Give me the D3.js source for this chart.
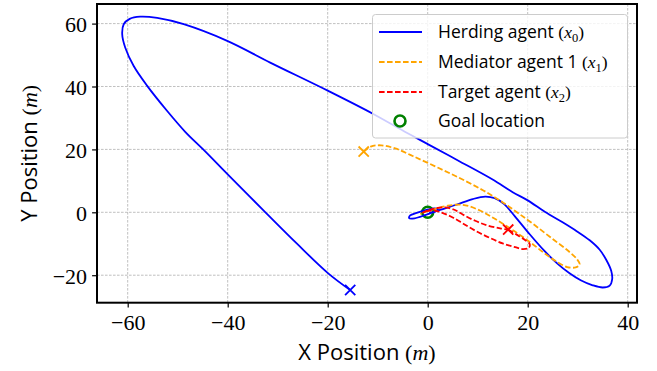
<!DOCTYPE html>
<html>
<head>
<meta charset="utf-8">
<script src="https://cdn.jsdelivr.net/npm/d3@7"></script>
<style>
  html, body { margin: 0; padding: 0; background: #fff; }
  svg { display: block; }
  .serif { font-family: 'Liberation Serif', 'Times New Roman', serif; }
</style>
</head>
<body>
<svg id="chart" width="657" height="371"></svg>
<script>
// Trajectories in metres, [x, y], each starting at its "x" marker.
const herdingPath = [
  [-15.5,-24.7], [-19.9,-19.4], [-26.2,-9.9], [-32.9,0.7], [-39.9,11.9], [-44.9,20.0],
  [-48.5,25.6], [-52.1,32.2], [-56.1,40.2], [-58.8,46.5], [-60.5,52.4], [-61.1,56.6],
  [-60.8,59.8], [-59.6,61.5], [-57.5,62.2], [-54.1,61.8], [-48.8,59.8], [-40.1,54.5],
  [-31.5,47.6], [-19.9,38.6], [-10.8,31.2], [-4.2,25.3], [0.1,21.6], [6.5,16.1],
  [12.9,10.5], [17.0,6.4], [20.0,3.8], [23.5,0.1], [26.9,-3.1], [29.8,-6.0], [32.4,-8.9],
  [34.4,-11.9], [35.7,-15.1], [36.7,-18.6], [36.9,-21.2], [36.4,-23.3], [35.0,-23.9],
  [33.0,-23.2], [30.6,-21.6], [28.3,-19.3], [26.0,-16.4], [23.3,-12.2], [20.2,-6.6],
  [17.4,-1.2], [15.3,2.6], [13.4,4.5], [11.5,5.0], [9.0,4.2], [5.7,2.4], [2.3,0.7],
  [-0.5,-0.9], [-2.6,-1.9], [-3.7,-1.9], [-3.5,-1.0], [-2.2,-0.2], [-0.6,0.6],
  [0.9,1.2], [2.0,1.0], [1.6,0.3], [0.3,-0.2]
];
const mediatorPath = [
  [-12.8,19.3], [-11.4,20.9], [-9.3,21.3], [-6.5,20.3], [-3.0,17.9], [1.5,14.6],
  [6.0,11.2], [10.5,7.5], [13.7,4.5], [16.0,2.1], [18.4,-0.6], [21.5,-4.2],
  [25.0,-8.5], [28.2,-12.4], [29.9,-15.0], [30.4,-16.6], [29.6,-17.5], [27.9,-17.4],
  [25.7,-15.6], [23.1,-12.7], [20.5,-9.5], [17.8,-6.5], [15.1,-3.7], [12.5,-1.2],
  [10.0,0.9], [7.0,2.4], [4.0,2.1], [1.5,1.1], [-0.4,0.2], [-1.5,-0.5]
];
const targetPath = [
  [16.1,-5.5], [17.8,-7.1], [19.4,-8.7], [20.4,-10.1], [20.2,-11.3], [19.0,-11.7],
  [17.5,-11.1], [15.0,-9.9], [12.5,-8.2], [9.8,-6.1], [7.2,-3.7], [5.2,-1.8],
  [3.3,-0.4], [1.5,0.5], [-0.4,0.4], [-1.0,-0.1], [0.2,0.7], [1.7,1.3], [3.3,1.6],
  [5.2,0.9], [7.0,-0.7], [9.5,-2.7], [12.0,-4.2], [14.5,-5.1], [16.1,-5.5]
];

const goalLocation = [0, 0];
const xTicks = [-60, -40, -20, 0, 20, 40];
const yTicks = [-20, 0, 20, 40, 60];
const xDomain = [-66.14, 41.86];
const yDomain = [-28.74, 66.23];

const agentNames = ["Herding agent", "Mediator agent 1", "Target agent"];
const agentSymbols = ["0", "1", "2"];
const goalLabel = "Goal location";

// Styles
const colors = { herd: "#0000ff", med: "#ffa500", target: "#ff0000", goal: "#008000" };
const sansFont = "'Open Sans', 'DejaVu Sans', sans-serif";
const serifFont = "'Liberation Serif', 'Times New Roman', serif";

const svg = d3.select("#chart");
const W = 657, H = 371;
const plot = { left: 97, right: 637, top: 4, bottom: 302.7 };

const x = d3.scaleLinear().domain(xDomain).range([plot.left, plot.right]);
const y = d3.scaleLinear().domain(yDomain).range([plot.bottom, plot.top]);

svg.append("rect").attr("width", W).attr("height", H).attr("fill", "#fff");

svg.append("defs").append("clipPath").attr("id", "plotClip")
  .append("rect")
  .attr("x", plot.left).attr("y", plot.top)
  .attr("width", plot.right - plot.left).attr("height", plot.bottom - plot.top);

// Grid
const grid = svg.append("g").attr("stroke", "#b0b0b0").attr("stroke-width", 0.8)
  .attr("stroke-dasharray", "2.6,1.4");
grid.selectAll("line.gx").data(xTicks).join("line")
  .attr("x1", d => x(d)).attr("x2", d => x(d))
  .attr("y1", plot.top).attr("y2", plot.bottom);
grid.selectAll("line.gy").data(yTicks).join("line")
  .attr("y1", d => y(d)).attr("y2", d => y(d))
  .attr("x1", plot.left).attr("x2", plot.right);

// Axes with outward ticks
const fmt = d => d < 0 ? "\u2212" + Math.abs(d) : String(d);
const xAxis = d3.axisBottom(x).tickValues(xTicks).tickSize(4.9).tickPadding(6).tickFormat(fmt);
const yAxis = d3.axisLeft(y).tickValues(yTicks).tickSize(4.9).tickPadding(5).tickFormat(fmt);

const gx = svg.append("g").attr("transform", `translate(0,${plot.bottom})`).call(xAxis);
const gy = svg.append("g").attr("transform", `translate(${plot.left},0)`).call(yAxis);
[gx, gy].forEach(g => {
  g.attr("font-family", serifFont).attr("font-size", 22);
  g.select(".domain").remove();
  g.selectAll(".tick line").attr("stroke", "#000").attr("stroke-width", 1.2);
  g.selectAll(".tick text").attr("fill", "#000").attr("class", "serif")
    .attr("font-family", serifFont).style("font-size", "22px");
});
gx.selectAll(".tick text").attr("dy", "0.75em");
gy.selectAll(".tick text").attr("dy", "0.36em");

// Trajectories
const line = d3.line().x(d => x(d[0])).y(d => y(d[1])).curve(d3.curveCatmullRom.alpha(0.5));
const lines = svg.append("g").attr("clip-path", "url(#plotClip)");

lines.append("circle")
  .attr("cx", x(goalLocation[0])).attr("cy", y(goalLocation[1])).attr("r", 5.5)
  .attr("fill", "none").attr("stroke", colors.goal).attr("stroke-width", 2.6);

lines.append("path").datum(herdingPath).attr("d", line)
  .attr("fill", "none").attr("stroke", colors.herd).attr("stroke-width", 1.8)
  .attr("stroke-linejoin", "round");
lines.append("path").datum(mediatorPath).attr("d", line)
  .attr("fill", "none").attr("stroke", colors.med).attr("stroke-width", 1.8)
  .attr("stroke-dasharray", "5.6,2.4");
lines.append("path").datum(targetPath).attr("d", line)
  .attr("fill", "none").attr("stroke", colors.target).attr("stroke-width", 1.8)
  .attr("stroke-dasharray", "5.6,2.4");

// Start markers (x)
const starts = [
  { p: herdingPath[0], c: colors.herd },
  { p: mediatorPath[0], c: colors.med },
  { p: targetPath[0], c: colors.target }
];
const cross = d3.symbol().type(d3.symbolX).size(70);
lines.selectAll("path.start").data(starts).join("path")
  .attr("class", "start")
  .attr("transform", d => `translate(${x(d.p[0])},${y(d.p[1])})`)
  .attr("d", cross)
  .attr("fill", "none").attr("stroke", d => d.c).attr("stroke-width", 1.8);

// Frame
svg.append("rect")
  .attr("x", plot.left).attr("y", plot.top)
  .attr("width", plot.right - plot.left).attr("height", plot.bottom - plot.top)
  .attr("fill", "none").attr("stroke", "#000").attr("stroke-width", 2);

// Axis labels: sans text with an italic math unit
function mathLabel(sel, text, unit) {
  sel.append("tspan").text(text + " ").style("font-family", sansFont);
  sel.append("tspan").text("(").style("font-family", serifFont);
  sel.append("tspan").text(unit).style("font-family", serifFont).style("font-style", "italic");
  sel.append("tspan").text(")").style("font-family", serifFont);
}
const xl = svg.append("text").attr("x", (plot.left + plot.right) / 2).attr("y", 360)
  .attr("text-anchor", "middle").style("font-size", "22px").attr("fill", "#000");
mathLabel(xl, "X Position", "m");
const yl = svg.append("text")
  .attr("transform", `translate(37,${(plot.top + plot.bottom) / 2}) rotate(-90)`)
  .attr("text-anchor", "middle").style("font-size", "22px").attr("fill", "#000");
mathLabel(yl, "Y Position", "m");

// Legend
const leg = svg.append("g");
leg.append("rect").attr("x", 372.5).attr("y", 14.5).attr("width", 255).attr("height", 123.5)
  .attr("rx", 3).attr("fill", "#fff").attr("fill-opacity", 0.8)
  .attr("stroke", "#cccccc").attr("stroke-width", 1);

const rowY = [32, 62, 92, 121];
const legendItems = [
  { name: agentNames[0], sub: agentSymbols[0], c: colors.herd, dash: null },
  { name: agentNames[1], sub: agentSymbols[1], c: colors.med, dash: "5.6,2.4" },
  { name: agentNames[2], sub: agentSymbols[2], c: colors.target, dash: "5.6,2.4" }
];
legendItems.forEach((it, i) => {
  leg.append("line").attr("x1", 379).attr("x2", 422).attr("y1", rowY[i]).attr("y2", rowY[i])
    .attr("stroke", it.c).attr("stroke-width", 1.8)
    .attr("stroke-dasharray", it.dash);
  const t = leg.append("text").attr("x", 438).attr("y", rowY[i]).attr("dy", "0.36em")
    .style("font-size", "17.5px").attr("fill", "#000");
  t.append("tspan").text(it.name + " ").style("font-family", sansFont);
  t.append("tspan").text("(").style("font-family", serifFont);
  t.append("tspan").text("x").style("font-family", serifFont).style("font-style", "italic");
  t.append("tspan").text(it.sub).style("font-family", serifFont)
    .style("font-size", "12.5px").attr("dy", "3.5");
  t.append("tspan").text(")").style("font-family", serifFont).attr("dy", "-3.5");
});
leg.append("circle").attr("cx", 400).attr("cy", rowY[3]).attr("r", 5.5)
  .attr("fill", "none").attr("stroke", colors.goal).attr("stroke-width", 2.6);
leg.append("text").attr("x", 438).attr("y", rowY[3]).attr("dy", "0.36em")
  .style("font-size", "17.5px").style("font-family", sansFont).attr("fill", "#000")
  .text(goalLabel);
</script>
</body>
</html>
